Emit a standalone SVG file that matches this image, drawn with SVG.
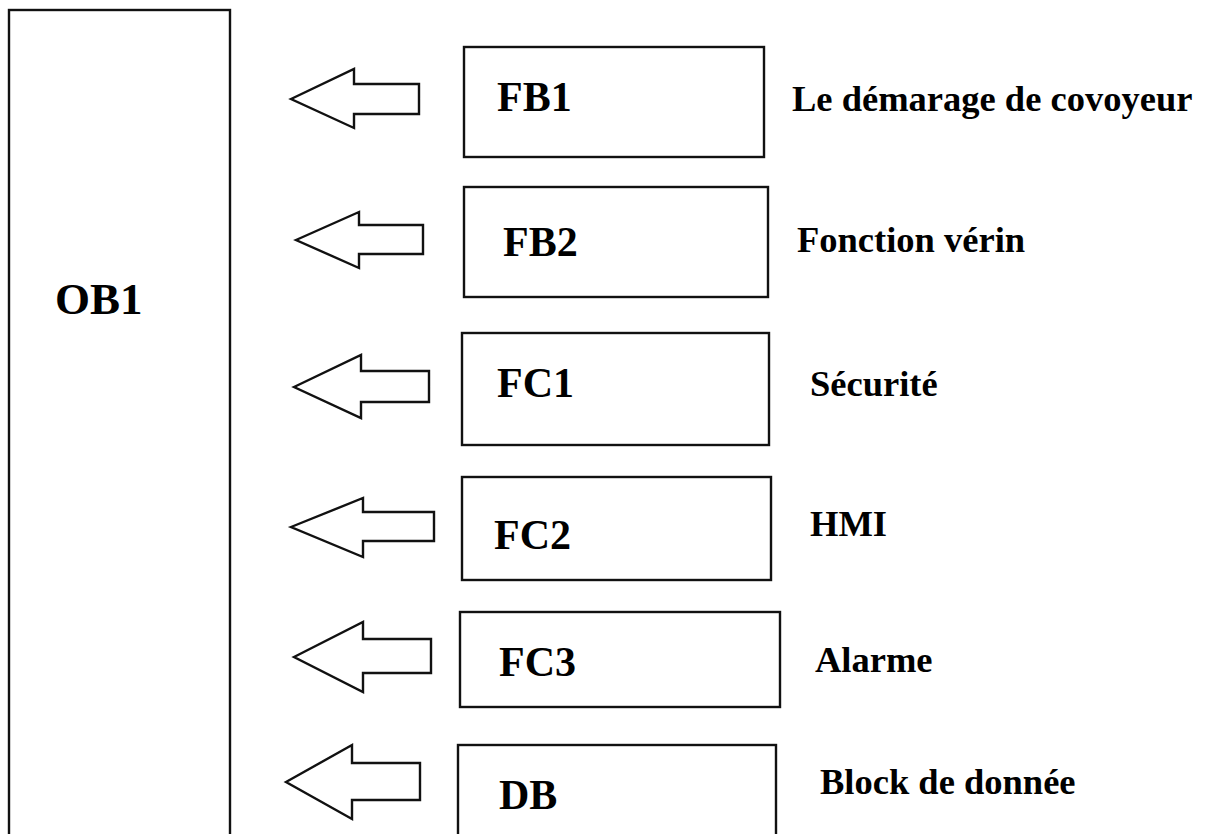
<svg xmlns="http://www.w3.org/2000/svg" width="1207" height="834" viewBox="0 0 1207 834">
  <style>
    .box { fill: #ffffff; stroke: #111111; stroke-width: 2.4; }
    .arrow { fill: #ffffff; stroke: #111111; stroke-width: 2.4; stroke-linejoin: miter; }
    .name { font-family: "Liberation Serif", "Times New Roman", serif; font-weight: bold; font-size: 42px; fill: #000000; }
    .main { font-size: 45px; }
    .desc { font-family: "Liberation Serif", "Times New Roman", serif; font-weight: bold; font-size: 36.5px; fill: #000000; }
  </style>
  <rect width="1207" height="834" fill="#ffffff"/>

  <!-- main organisation block -->
  <g id="ob1">
    <rect class="box" x="9" y="10" width="221" height="840"/>
    <text class="name main" x="55" y="314">OB1</text>
  </g>

  <!-- called blocks -->
  <g id="fb1">
    <rect class="box" x="464" y="47" width="300" height="110"/>
    <text class="name" x="497" y="111">FB1</text>
    <text class="desc" x="792" y="111">Le démarage de covoyeur</text>
  </g>
  <g id="fb2">
    <rect class="box" x="464" y="187" width="304" height="110"/>
    <text class="name" x="503" y="256">FB2</text>
    <text class="desc" x="797" y="252">Fonction vérin</text>
  </g>
  <g id="fc1">
    <rect class="box" x="462" y="333" width="307" height="112"/>
    <text class="name" x="497" y="397">FC1</text>
    <text class="desc" x="810" y="396">Sécurité</text>
  </g>
  <g id="fc2">
    <rect class="box" x="462" y="477" width="309" height="103"/>
    <text class="name" x="494" y="549">FC2</text>
    <text class="desc" x="810" y="536">HMI</text>
  </g>
  <g id="fc3">
    <rect class="box" x="460" y="612" width="320" height="95"/>
    <text class="name" x="499" y="676">FC3</text>
    <text class="desc" x="815" y="672">Alarme</text>
  </g>
  <g id="db">
    <rect class="box" x="458" y="745" width="318" height="120"/>
    <text class="name" x="499" y="809">DB</text>
    <text class="desc" x="820" y="794">Block de donnée</text>
  </g>

  <!-- block arrows pointing to OB1 -->
  <g id="connectors">
    <polygon class="arrow" points="291,99 354,69 354,84 419,84 419,114 354,114 354,128"/>
    <polygon class="arrow" points="296,240 359,212 359,225 423,225 423,254 359,254 359,268"/>
    <polygon class="arrow" points="294,387 361,355 361,371 429,371 429,402 361,402 361,418"/>
    <polygon class="arrow" points="291,527 363,498 363,512 434,512 434,541 363,541 363,557"/>
    <polygon class="arrow" points="294,657 363,622 363,639 431,639 431,673 363,673 363,692"/>
    <polygon class="arrow" points="286,782 352,745 352,763 420,763 420,800 352,800 352,819"/>
  </g>
</svg>
